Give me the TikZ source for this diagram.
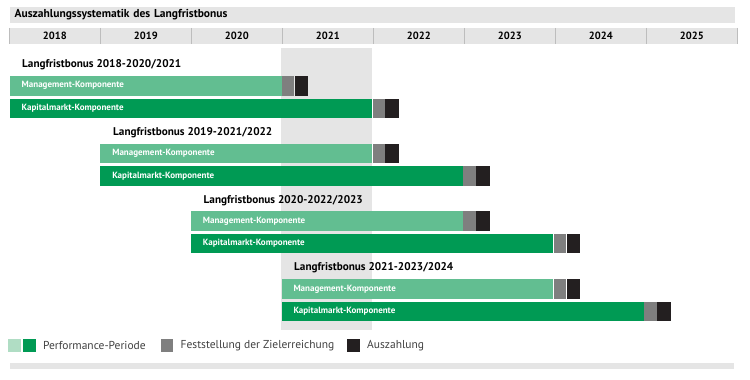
\documentclass[tikz,border=0pt]{standalone}
\usepackage{fontspec}
\setmainfont{PT Sans}
\usepackage{tikz}
\usetikzlibrary{positioning}
\definecolor{lgreen}{HTML}{62BE91}
\definecolor{pgreen}{HTML}{B0DDC4}
\definecolor{dgreen}{HTML}{009A54}
\definecolor{fgray}{HTML}{7F7F7F}
\definecolor{pblack}{HTML}{231F20}
\definecolor{bggray}{HTML}{E5E5E5}
\definecolor{sepgray}{HTML}{BDBDBD}
\tikzstyle{titlebar} = [fill=bggray, anchor=west, inner xsep=5pt, inner ysep=0pt,
    text width=714.8pt, minimum height=16pt, font=\bfseries\fontsize{11.5}{13}\selectfont]
\tikzstyle{year} = [fill=bggray, inner sep=0pt, minimum width=90.6pt,
    minimum height=16pt, font=\bfseries\fontsize{10.5}{12}\selectfont]
\tikzstyle{sep} = [draw=sepgray, line width=1.5pt]
\tikzstyle{group} = [anchor=west, inner sep=0pt, font=\bfseries\fontsize{11.2}{13}\selectfont]
\tikzstyle{bar} = [anchor=west, inner xsep=12pt, inner ysep=0pt, minimum height=19.5pt,
    text=white, align=left, font=\bfseries\fontsize{9}{10}\selectfont]
\tikzstyle{mbar} = [bar, fill=lgreen, text width=247.8pt]
\tikzstyle{kbar} = [bar, fill=dgreen, text width=338.4pt]
\tikzstyle{check} = [fill=fgray, inner sep=0pt, minimum width=12.5pt, minimum height=19.5pt]
\tikzstyle{pay} = [fill=pblack, inner sep=0pt, minimum width=13.5pt, minimum height=19.5pt]
\tikzstyle{key} = [inner sep=0pt, minimum size=12.5pt]
\tikzstyle{keytext} = [anchor=west, inner sep=0pt, text=black!75, font=\fontsize{11.5}{13}\selectfont]

\begin{document}
\begin{tikzpicture}[x=1pt, y=-1pt, node distance=0pt]
          \useasboundingbox (0,0) rectangle (750,380);
          % Shaded year 2021
          \fill [bggray] (281.3,48) rectangle (371.9,330);

          % Title and years
          \node [titlebar] (title) at (9.5,15) {Auszahlungssystematik des Langfristbonus};
          \node [year] (y2018) at (54.8,36) {2018};
          \node [year, right=of y2018] (y2019) {2019};
          \node [year, right=of y2019] (y2020) {2020};
          \node [year, right=of y2020] (y2021) {2021};
          \node [year, right=of y2021] (y2022) {2022};
          \node [year, right=of y2022] (y2023) {2023};
          \node [year, right=of y2023] (y2024) {2024};
          \node [year, right=of y2024] (y2025) {2025};
          \foreach \y in {2018,...,2025}
              \draw [sep] (y\y.north west) -- (y\y.south west);
          \draw [sep] (y2025.north east) -- (y2025.south east);

          % Langfristbonus 2018
          \node [group] (g1) at (22,65) {Langfristbonus 2018-2020/2021};
          \node [mbar] (m1) at (9.5,85.75) {Management-Komponente};
          \node [check, right=of m1] (m1c) {};
          \node [pay, right=of m1c] (m1p) {};
          \node [kbar] (k1) at (9.5,108.25) {Kapitalmarkt-Komponente};
          \node [check, right=of k1] (k1c) {};
          \node [pay, right=of k1c] (k1p) {};

          % Langfristbonus 2019
          \node [group] (g2) at (113,132.7) {Langfristbonus 2019-2021/2022};
          \node [mbar] (m2) at (100.1,153.45) {Management-Komponente};
          \node [check, right=of m2] (m2c) {};
          \node [pay, right=of m2c] (m2p) {};
          \node [kbar] (k2) at (100.1,175.95) {Kapitalmarkt-Komponente};
          \node [check, right=of k2] (k2c) {};
          \node [pay, right=of k2c] (k2p) {};

          % Langfristbonus 2020
          \node [group] (g3) at (203.5,200.4) {Langfristbonus 2020-2022/2023};
          \node [mbar] (m3) at (190.7,221.15) {Management-Komponente};
          \node [check, right=of m3] (m3c) {};
          \node [pay, right=of m3c] (m3p) {};
          \node [kbar] (k3) at (190.7,243.65) {Kapitalmarkt-Komponente};
          \node [check, right=of k3] (k3c) {};
          \node [pay, right=of k3c] (k3p) {};

          % Langfristbonus 2021
          \node [group] (g4) at (294,268.1) {Langfristbonus 2021-2023/2024};
          \node [mbar] (m4) at (281.3,288.85) {Management-Komponente};
          \node [check, right=of m4] (m4c) {};
          \node [pay, right=of m4c] (m4p) {};
          \node [kbar] (k4) at (281.3,311.35) {Kapitalmarkt-Komponente};
          \node [check, right=of k4] (k4c) {};
          \node [pay, right=of k4c] (k4p) {};

          % Legend
          \node [key, fill=pgreen] (lp) at (14.5,345.5) {};
          \node [key, fill=dgreen, right=2pt of lp] (lk) {};
          \node [keytext, right=7pt of lk] (tperf) {Performance-Periode};
          \node [key, fill=fgray] (lc) at (167,345.5) {};
          \node [keytext, right=7pt of lc] (tcheck) {Feststellung der Zielerreichung};
          \node [key, fill=pblack] (lpay) at (353.5,345.5) {};
          \node [keytext, right=7pt of lpay] (tpay) {Auszahlung};
          \fill [bggray] (9.5,363) rectangle (734.3,369);
      \end{tikzpicture}
\end{document}
